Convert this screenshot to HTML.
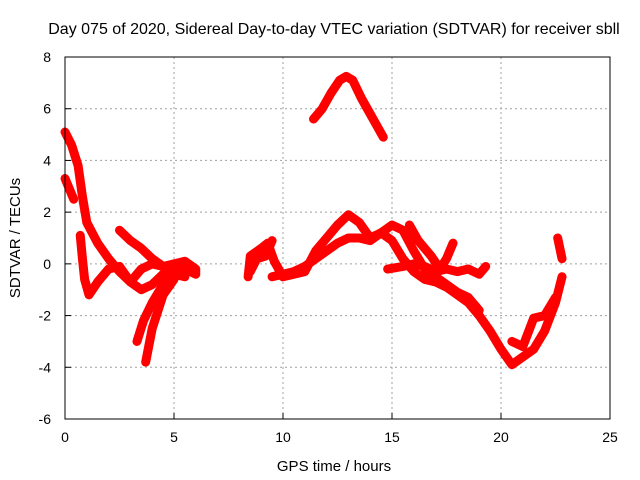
<!DOCTYPE html>
<html><head><meta charset="utf-8"><style>
body{margin:0;background:#fff;}
svg{display:block;font-family:"Liberation Sans",sans-serif;}
</style></head><body>
<svg id="chart" width="640" height="480">
<text x="334" y="34" text-anchor="middle" font-size="16">Day 075 of 2020, Sidereal Day-to-day VTEC variation (SDTVAR) for receiver sbll</text>
<text x="334" y="471" text-anchor="middle" font-size="15">GPS time / hours</text>
<text x="20" y="238" text-anchor="middle" font-size="15" transform="rotate(-90 20 238)">SDTVAR / TECUs</text>
<g id="grid"></g><g id="series"></g><g id="axes"></g>
</svg>
<script>
const xTicks=[0,5,10,15,20,25];
const yTicks=[-6,-4,-2,0,2,4,6,8];
const s1=[[11.4,5.6],[11.8,6.0],[12.2,6.6],[12.6,7.1],[12.9,7.25],[13.2,7.1],[13.6,6.4],[14.0,5.8],[14.6,4.9]];
const s2=[[0,5.1],[0.3,4.6],[0.6,3.8],[0.8,2.6],[1.0,1.6],[1.5,0.8],[2.0,0.2],[2.5,-0.3],[3.0,-0.7],[3.5,-1.0],[4.0,-0.8],[4.5,-0.4],[5.0,-0.3],[5.5,-0.2],[6.0,-0.4]];
const s3=[[0,3.3],[0.2,2.9],[0.4,2.5]];
const s4=[[0.7,1.1],[0.8,0.2],[0.9,-0.6],[1.1,-1.2],[1.5,-0.7],[2.0,-0.2],[2.5,-0.1],[3.0,-0.7],[3.5,-0.2],[4.0,0.0],[4.5,-0.1],[5.0,0.0],[5.5,0.1],[6.0,-0.2]];
const s5=[[2.5,1.3],[3.0,0.9],[3.5,0.6],[4.0,0.2],[4.5,-0.1],[5.0,-0.2],[5.5,-0.1],[6.0,-0.3]];
const s6=[[3.3,-3.0],[3.6,-2.2],[4.0,-1.5],[4.5,-0.8],[5.0,-0.4],[5.5,-0.5]];
const s7=[[3.7,-3.8],[4.0,-2.5],[4.5,-1.2],[5.0,-0.6]];
const s8=[[8.4,-0.5],[8.5,0.3],[9.0,0.6],[9.3,0.8],[9.6,0.1],[10.0,-0.5],[10.5,-0.4],[11.0,-0.3],[11.5,0.5],[12.0,1.0],[12.5,1.5],[13.0,1.9],[13.5,1.6],[14.0,1.0],[14.5,1.2],[15.0,0.9],[15.5,0.2],[16.0,-0.3],[16.5,-0.6],[17.0,-0.7],[17.5,-0.9],[18.0,-1.2],[18.5,-1.5],[19.0,-2.0],[19.5,-2.6],[20.0,-3.3],[20.5,-3.9],[21.0,-3.6],[21.5,-3.3],[22.0,-2.6],[22.5,-1.5],[22.8,-0.5]];
const s9=[[9.5,-0.5],[10.0,-0.4],[10.5,-0.3],[11.0,-0.1],[11.5,0.2],[12.0,0.5],[12.5,0.8],[13.0,1.0],[13.5,1.0],[14.0,0.9],[14.5,1.2],[15.0,1.5],[15.5,1.3],[16.0,0.5],[16.5,-0.2],[17.0,-0.5],[17.5,-0.8],[18.0,-1.1],[18.5,-1.3],[19.0,-1.8]];
const s10=[[14.8,-0.2],[15.5,-0.1],[16.0,0.0],[16.5,-0.1],[17.0,-0.3],[17.5,-0.2],[18.0,-0.3],[18.5,-0.2],[19.0,-0.4],[19.3,-0.1]];
const s11=[[15.8,1.5],[16.2,0.9],[16.8,0.3],[17.2,-0.2],[17.5,0.2],[17.8,0.8]];
const s12=[[20.5,-3.0],[21.0,-3.2],[21.5,-2.1],[22.0,-2.0],[22.5,-1.3]];
const s13=[[22.6,1.0],[22.8,0.2]];
const s14=[[8.5,-0.3],[8.8,0.2],[9.2,0.3],[9.5,0.9]];
const seriesList=[s1,s2,s3,s4,s5,s6,s7,s8,s9,s10,s11,s12,s13,s14];
const X0=65,X1=610,Y0=419,Y1=57;
const xs=v=>X0+(v-0)/(25-0)*(X1-X0);
const ys=v=>Y0-(v+6)/(8+6)*(Y0-Y1);
const NS="http://www.w3.org/2000/svg";
const grid=document.getElementById('grid'),axes=document.getElementById('axes'),ser=document.getElementById('series');
function mk(tag,at,parent){const e=document.createElementNS(NS,tag);for(const k in at)e.setAttribute(k,at[k]);parent.appendChild(e);return e;}
xTicks.forEach(t=>{
  const l=mk('line',{x1:xs(t),x2:xs(t),y1:Y0,y2:Y1,stroke:'#a0a0a0','stroke-dasharray':'2,3'},grid);
  
  
  const tk=mk('line',{x1:xs(t),x2:xs(t),y1:Y0,y2:Y0-6,stroke:'#000'},axes);
  
  
  const tx=mk('text',{x:xs(t),y:Y0+23,'text-anchor':'middle','font-size':14},axes);
  tx.textContent=t;
  
  
});
yTicks.forEach(t=>{
  const l=mk('line',{x1:X0,x2:X1,y1:ys(t),y2:ys(t),stroke:'#a0a0a0','stroke-dasharray':'2,3'},grid);
  
  
  const tk=mk('line',{x1:X0,x2:X0+6,y1:ys(t),y2:ys(t),stroke:'#000'},axes);
  
  
  const tx=mk('text',{x:X0-14,y:ys(t)+5,'text-anchor':'end','font-size':14},axes);
  tx.textContent=t;
  
  
});
const fr=mk('rect',{x:X0,y:Y1,width:X1-X0,height:Y0-Y1,fill:'none',stroke:'#000'},axes);


seriesList.forEach((s,i)=>{
  const p=mk('polyline',{points:s.map(d=>xs(d[0])+','+ys(d[1])).join(' '),fill:'none',stroke:'#ff0000','stroke-width':9,'stroke-linejoin':'round','stroke-linecap':'round'},ser);
  
  
});
</script>
</body></html>
